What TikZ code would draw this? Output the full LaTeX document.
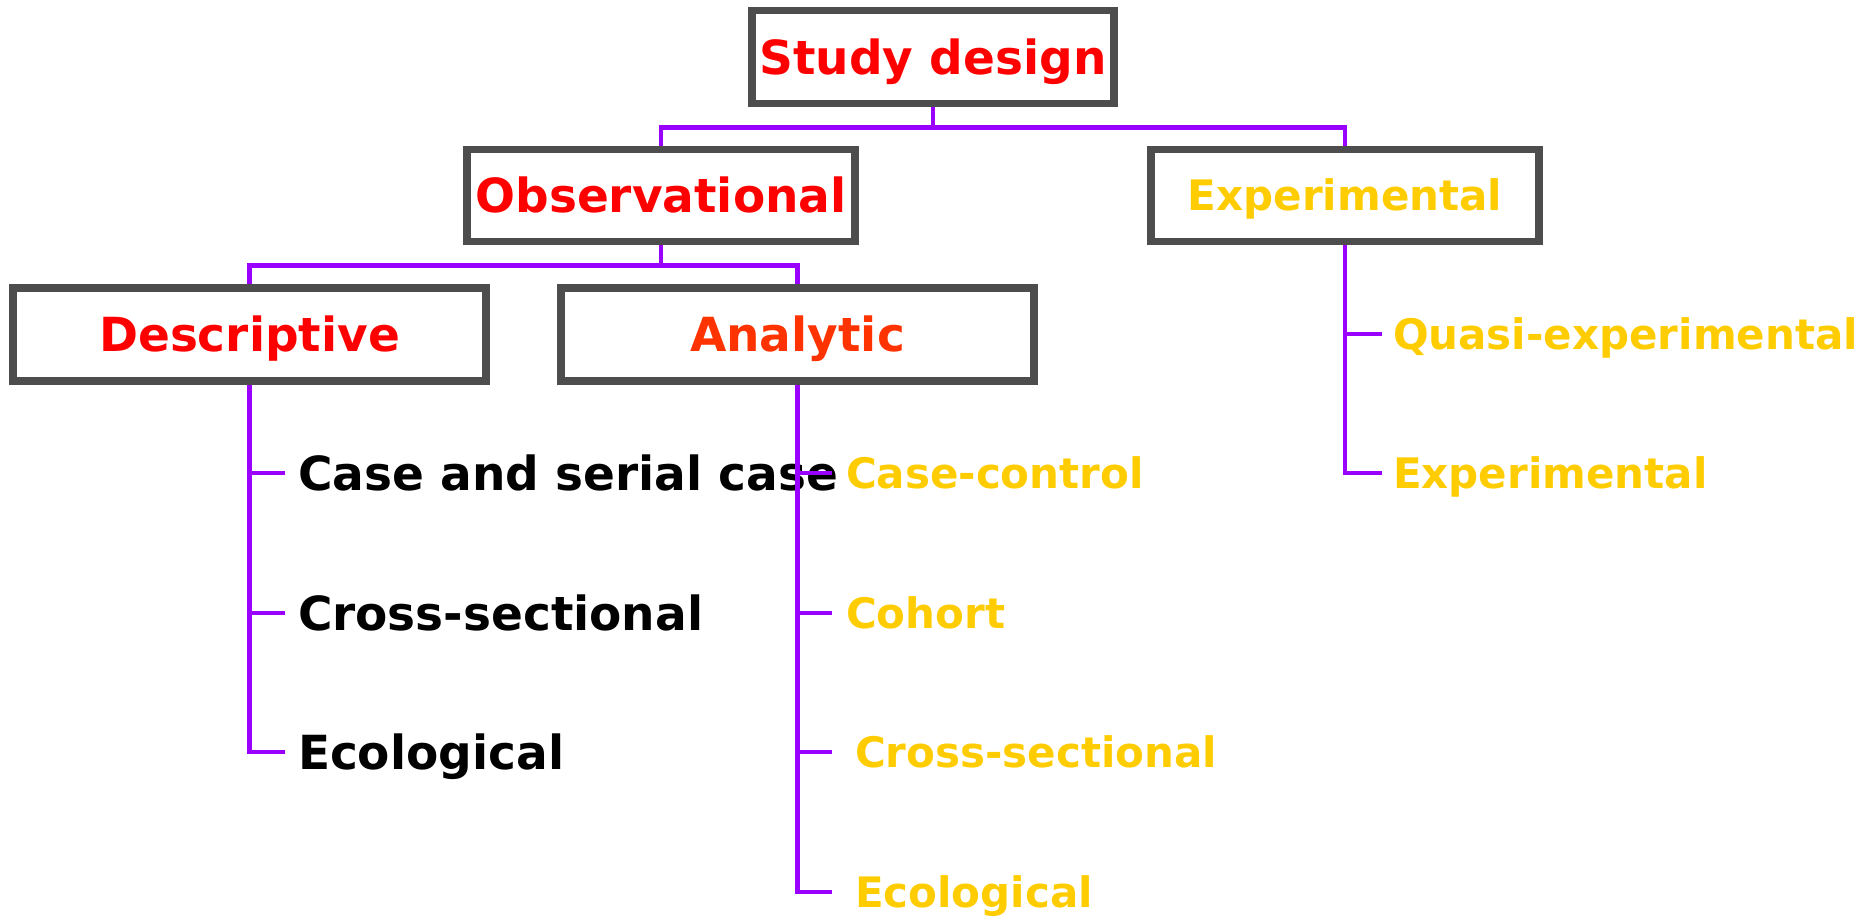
\documentclass[tikz,border=0pt]{standalone}
\usepackage{fontspec}
\setmainfont{DejaVu Sans}
\usepackage{tikz}
\usetikzlibrary{positioning}
\definecolor{sdred}{HTML}{FF0000}
\definecolor{sdorange}{HTML}{FF3300}
\definecolor{sdyellow}{HTML}{FFCC00}
\definecolor{sdpurple}{HTML}{9900FF}
\definecolor{sdgray}{HTML}{4D4D4D}

\begin{document}
\begin{tikzpicture}[x=1pt,y=-1pt,
    big/.style={font=\fontsize{47}{56}\selectfont\bfseries,text height=34.3pt,text depth=0pt},
    small/.style={font=\fontsize{42}{50}\selectfont\bfseries,text height=30.6pt,text depth=0pt},
    box/.style={draw=sdgray,line width=7.5pt,fill=white,rectangle,inner sep=0pt},
    item/.style={anchor=west,inner sep=0pt,outer sep=0pt},
    link/.style={draw=sdpurple,line width=4.5pt}]
    \useasboundingbox (0,0) rectangle (1870,916);
    % boxes
    \node[box,big,text=sdred,minimum width=362pt,minimum height=93pt] (study) at (933,57) {Study design};
    \node[box,big,text=sdred,minimum width=388pt,minimum height=92pt] (obs) at (661,195.5) {Observational};
    \node[box,small,text=sdyellow,minimum width=388pt,minimum height=92pt] (expt) at (1345,195.5) {Experimental};
    \node[box,big,text=sdred,minimum width=473pt,minimum height=93pt] (desc) at (249.5,334.5) {Descriptive};
    \node[box,big,text=sdorange,minimum width=473pt,minimum height=93pt] (ana) at (797.5,334.5) {Analytic};

    % lists
    \foreach \y/\t [count=\i] in {473/Case and serial case,613/Cross-sectional,752/Ecological}{
      \node[item,big] (d\i) at (298,\y) {\t};
      \coordinate (dt\i) at (285,\y);}
    \foreach \y/\x/\t [count=\i] in {473/846/Case-control,613/846/Cohort,752/855/Cross-sectional,892/855/Ecological}{
      \node[item,small,text=sdyellow] (a\i) at (\x,\y) {\t};
      \coordinate (at\i) at (832,\y);}
    \foreach \y/\t [count=\i] in {334/Quasi-experimental,473/Experimental}{
      \node[item,small,text=sdyellow] (e\i) at (1393,\y) {\t};
      \coordinate (et\i) at (1382,\y);}

    % connectors
    \draw[link] (study.south) -- ++(0,20) coordinate (j1);
    \draw[link] (obs.north) |- (j1) -| (expt.north);
    \draw[link] (obs.south) -- ++(0,20) coordinate (j2);
    \draw[link] (desc.north) |- (j2) -| (ana.north);
    \draw[link] (desc.south) |- (dt3);
    \foreach \i in {1,2} \draw[link] (desc.south |- dt\i) -- (dt\i);
    \draw[link] (ana.south) |- (at4);
    \foreach \i in {1,2,3} \draw[link] (ana.south |- at\i) -- (at\i);
    \draw[link] (expt.south) |- (et2);
    \draw[link] (expt.south |- et1) -- (et1);
  \end{tikzpicture}
\end{document}
